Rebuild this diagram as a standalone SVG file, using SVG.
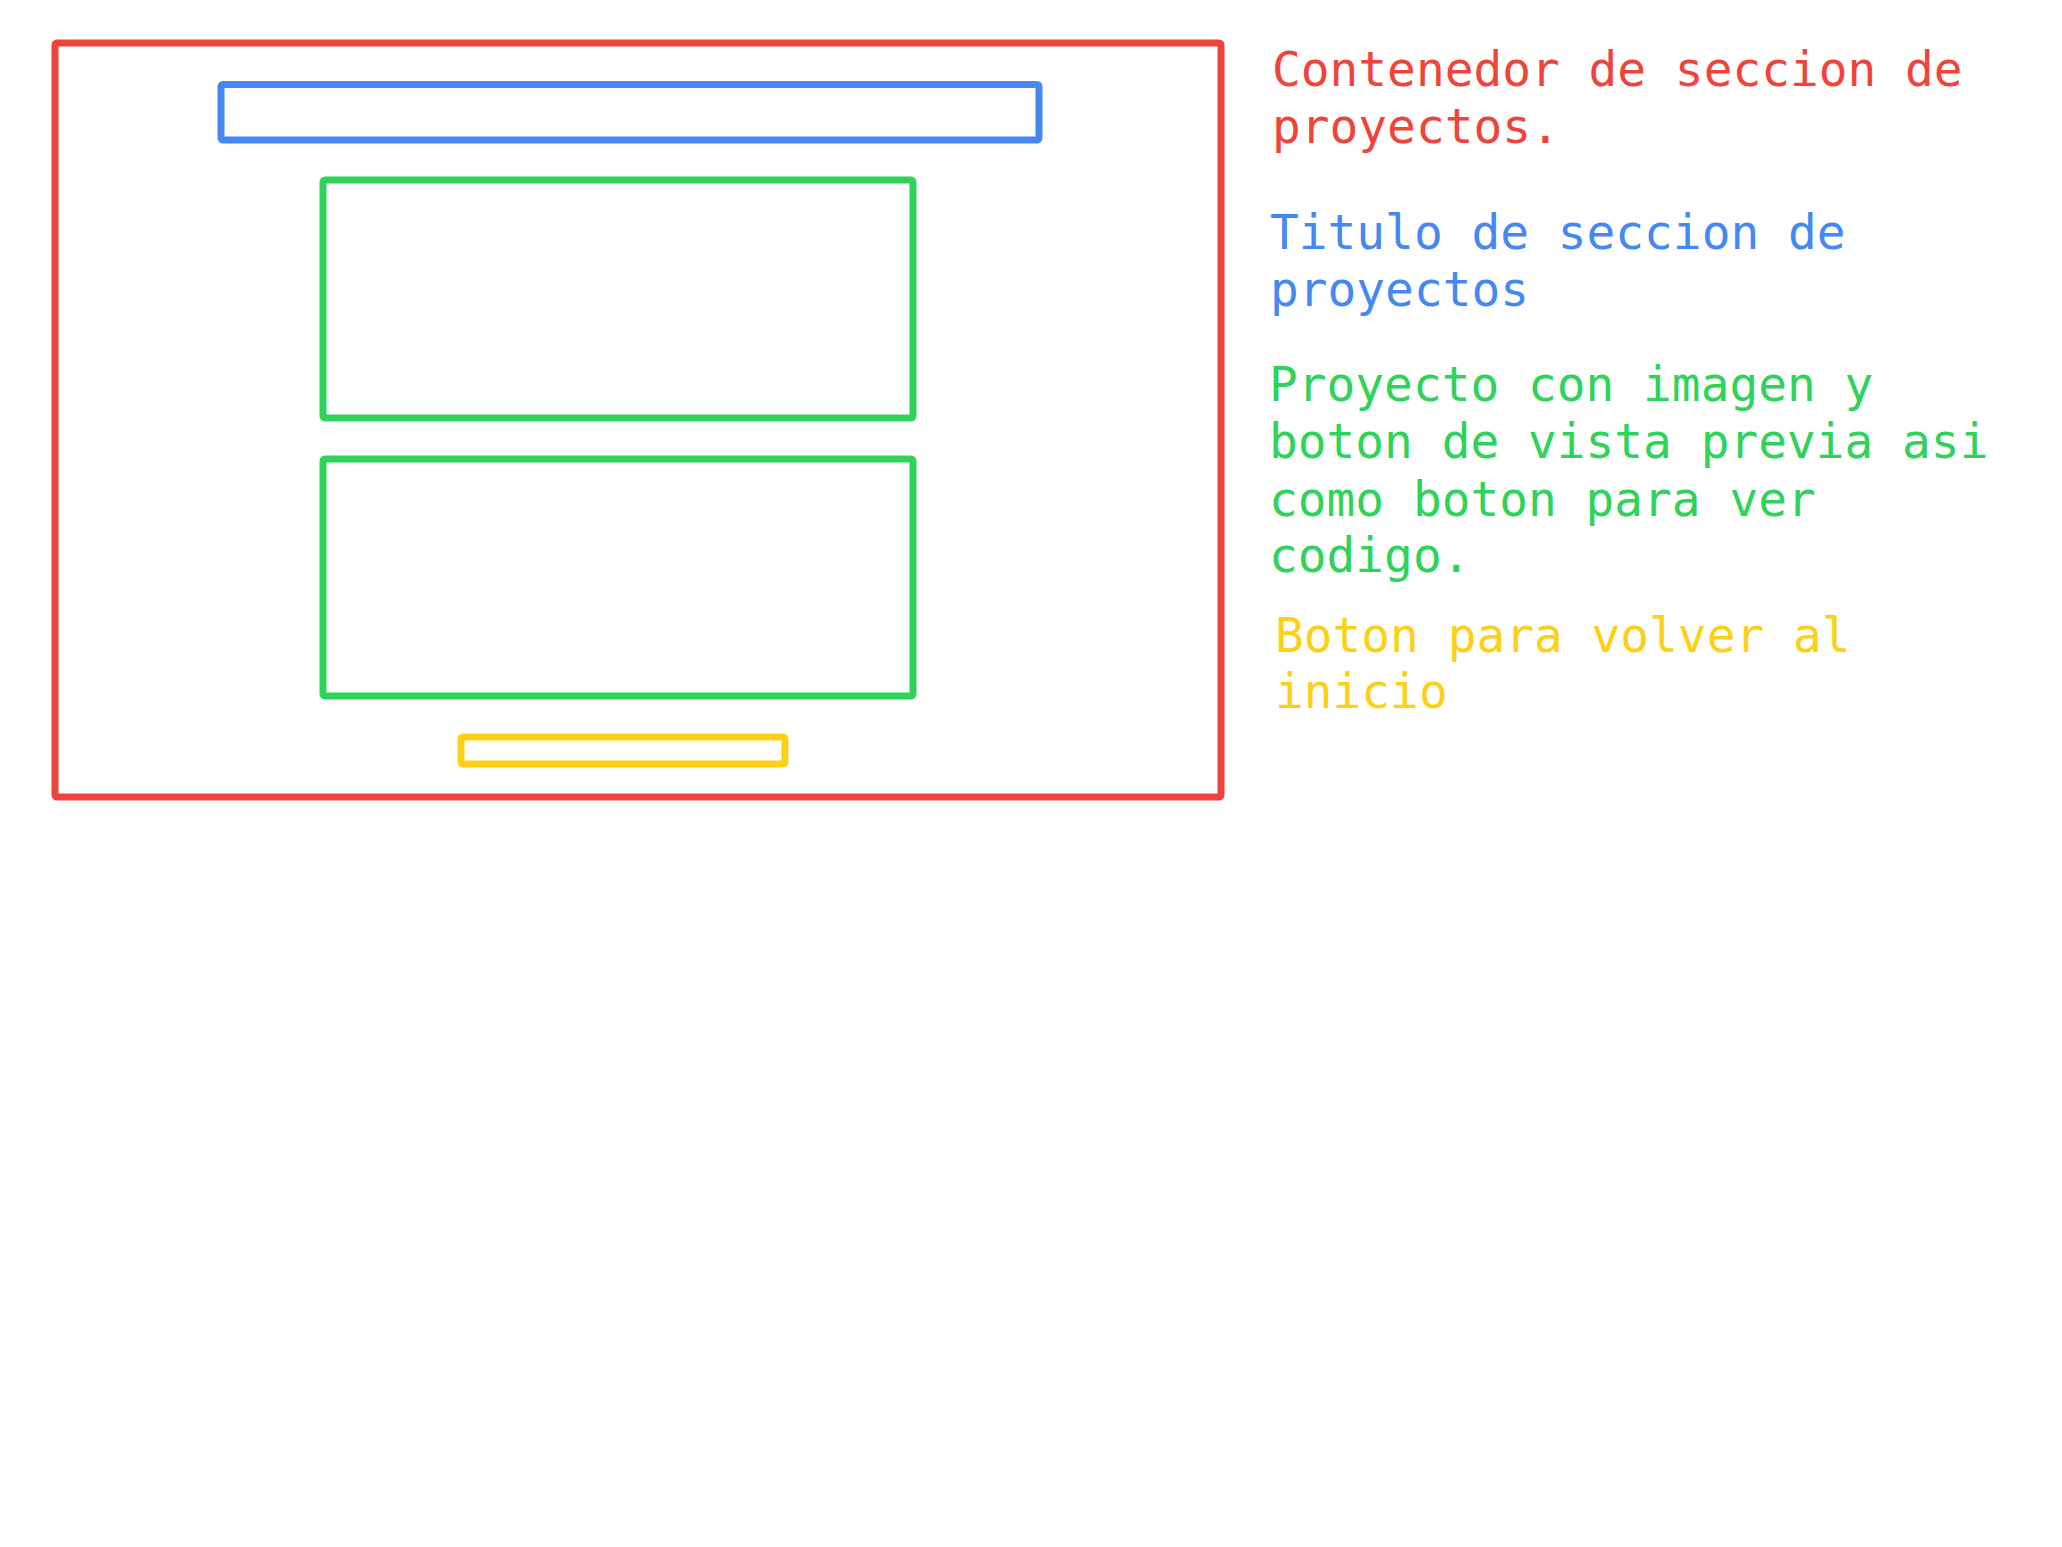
<svg xmlns="http://www.w3.org/2000/svg" width="2062" height="1547" viewBox="0 0 2062 1547">
<style>
.box{fill:none;stroke-width:7;stroke-linejoin:round}
.lbl{font-family:"DejaVu Sans Mono","Liberation Mono",monospace;font-size:47.8px}
</style>
<rect width="2062" height="1547" fill="#ffffff"/>
<g id="contenedor">
<rect class="box" x="55" y="43" width="1166" height="754" rx="2" stroke="#f0443a"/>
</g>
<g id="titulo">
<rect class="box" x="221" y="84.5" width="818" height="55.5" rx="2" stroke="#4688f1"/>
</g>
<g id="proyecto1">
<rect class="box" x="323" y="180" width="590" height="238" rx="2" stroke="#2fd35a"/>
</g>
<g id="proyecto2">
<rect class="box" x="323" y="459" width="590" height="237" rx="2" stroke="#2fd35a"/>
</g>
<g id="boton">
<rect class="box" x="461" y="737" width="324" height="27" rx="2" stroke="#fdd018"/>
</g>
<g id="connectors"></g>
<g id="labels" class="lbl">
<text x="1272" y="86" fill="#f0443a"><tspan x="1272">Contenedor de seccion de</tspan><tspan x="1272" y="143">proyectos.</tspan></text>
<text x="1270" y="249" fill="#4688f1"><tspan x="1270">Titulo de seccion de</tspan><tspan x="1270" y="306">proyectos</tspan></text>
<text x="1269" y="401" fill="#2fd35a"><tspan x="1269">Proyecto con imagen y</tspan><tspan x="1269" y="458">boton de vista previa asi</tspan><tspan x="1269" y="516">como boton para ver</tspan><tspan x="1269" y="572">codigo.</tspan></text>
<text x="1275" y="652" fill="#fdd018"><tspan x="1275">Boton para volver al</tspan><tspan x="1275" y="708">inicio</tspan></text>
</g>
</svg>
